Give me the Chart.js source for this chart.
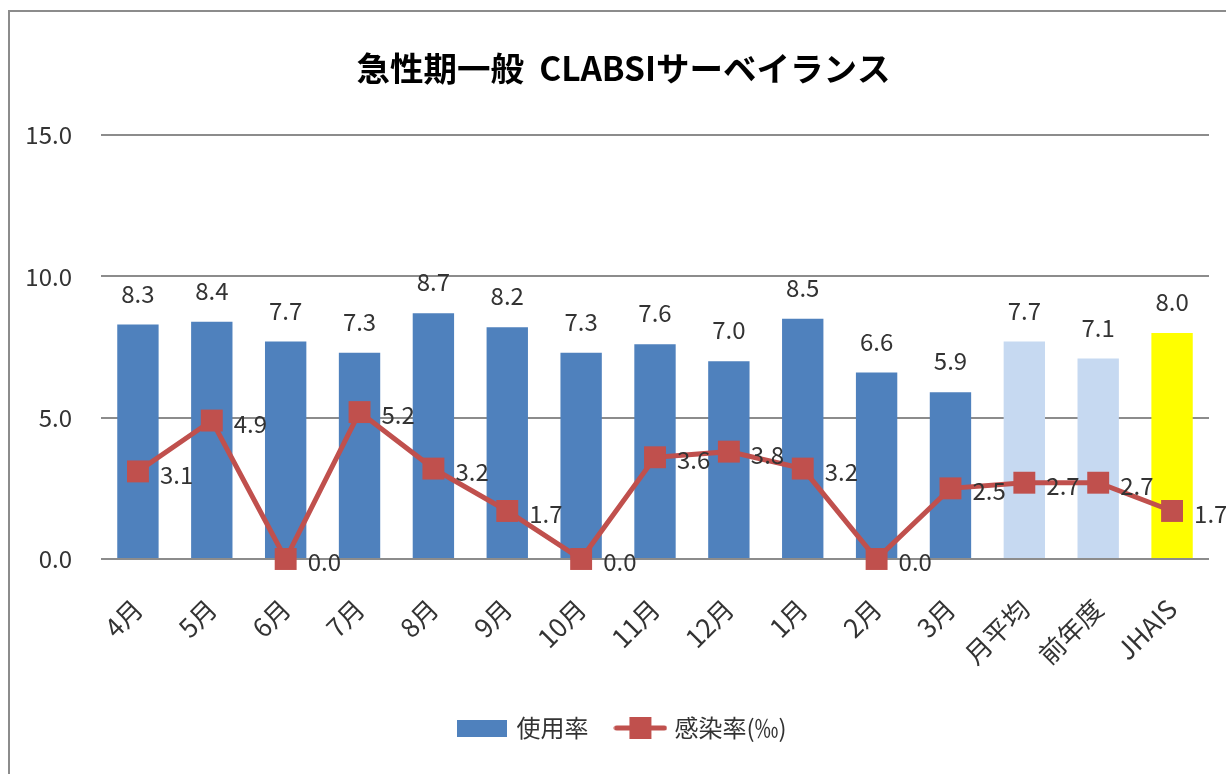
<!DOCTYPE html>
<html>
<head>
<meta charset="utf-8">
<script src="https://cdn.jsdelivr.net/npm/chart.js@4"></script>
<style>
html, body { margin: 0; padding: 0; background: #fff; overflow: hidden; }
#frame { position: absolute; left: 8px; top: 10px; width: 1400px; height: 1000px; border-left: 2px solid #8c8c8c; border-top: 2px solid #8c8c8c; }
#wrap { position: absolute; left: 0; top: 0; width: 1226px; height: 774px; }
</style>
</head>
<body>
<div id="frame"></div>
<div id="wrap"><canvas id="clabsiChart" width="1226" height="774"></canvas></div>
<script>
const categories = ['4月', '5月', '6月', '7月', '8月', '9月', '10月', '11月', '12月', '1月', '2月', '3月', '月平均', '前年度', 'JHAIS'];
const usageRate = [8.3, 8.4, 7.7, 7.3, 8.7, 8.2, 7.3, 7.6, 7.0, 8.5, 6.6, 5.9, 7.7, 7.1, 8.0];
const infectionRate = [3.1, 4.9, 0.0, 5.2, 3.2, 1.7, 0.0, 3.6, 3.8, 3.2, 0.0, 2.5, 2.7, 2.7, 1.7];
const yTickLabels = ['0.0', '5.0', '10.0', '15.0'];
const seriesNames = ['使用率', '感染率(‰)'];

const blue = '#4F81BD';
const lightBlue = '#C6D9F1';
const red = '#C0504D';
const barColors = categories.map((c, i) => i < 12 ? blue : (i < 14 ? lightBlue : '#FFFF00'));
const fontFamily = "'Noto Sans CJK JP', 'Noto Sans', sans-serif";
const textColor = '#333333';

// legend swatches
function makeSwatch(w, h, draw) {
    const c = document.createElement('canvas');
    c.width = w;
    c.height = h;
    draw(c.getContext('2d'));
    return c;
}
const barSwatch = makeSwatch(50, 17, g => { g.fillStyle = blue; g.fillRect(0, 0, 50, 17); });
const lineSwatch = makeSwatch(54, 24, g => {
    g.strokeStyle = red;
    g.lineWidth = 5;
    g.lineCap = 'round';
    g.beginPath(); g.moveTo(3, 12); g.lineTo(51, 12); g.stroke();
    g.fillStyle = red;
    g.fillRect(16, 1, 22, 22);
});

// value labels above bars / right of points
const valueLabels = {
    id: 'valueLabels',
    afterDatasetsDraw(chart) {
        const ctx = chart.ctx;
        ctx.save();
        ctx.font = '24px ' + fontFamily;
        ctx.fillStyle = textColor;
        ctx.textBaseline = 'middle';
        ctx.textAlign = 'center';
        chart.getDatasetMeta(0).data.forEach((bar, i) => {
            ctx.fillText(usageRate[i].toFixed(1), bar.x, bar.y - 31);
        });
        ctx.textAlign = 'left';
        chart.getDatasetMeta(1).data.forEach((pt, i) => {
            ctx.fillText(infectionRate[i].toFixed(1), pt.x + 22, pt.y + 3);
        });
        ctx.restore();
    }
};

// title and legend sit a bit right of the canvas centre in the original
const shiftHeader = {
    id: 'shiftHeader',
    afterLayout(chart) {
        chart.titleBlock.left += 38;
        chart.legend.left += 38;
    }
};

const ctx = document.getElementById('clabsiChart').getContext('2d');
new Chart(ctx, {
    data: {
        labels: categories,
        datasets: [{
            type: 'bar',
            label: seriesNames[0],
            data: usageRate,
            backgroundColor: barColors,
            barPercentage: 0.56,
            categoryPercentage: 1,
            order: 2
        }, {
            type: 'line',
            label: seriesNames[1],
            data: infectionRate,
            borderColor: red,
            backgroundColor: red,
            borderWidth: 5,
            pointStyle: 'rect',
            pointRadius: 15.5,
            pointBorderWidth: 0,
            tension: 0,
            clip: false,
            order: 1
        }]
    },
    options: {
        responsive: false,
        animation: false,
        layout: { padding: { top: 0, left: 0, right: 17, bottom: 24 } },
        plugins: {
            tooltip: { enabled: false },
            title: {
                display: true,
                text: '急性期一般  CLABSIサーベイランス',
                color: '#000',
                font: { family: fontFamily, size: 33.5, weight: 'bold' },
                padding: { top: 48, bottom: 47 }
            },
            legend: {
                position: 'bottom',
                labels: {
                    usePointStyle: true,
                    pointStyleWidth: 44,
                    padding: 30,
                    color: textColor,
                    font: { family: fontFamily, size: 24 },
                    generateLabels: () => [
                        { text: seriesNames[0], pointStyle: barSwatch, fillStyle: blue, strokeStyle: blue, lineWidth: 0, datasetIndex: 0, fontColor: textColor },
                        { text: seriesNames[1], pointStyle: lineSwatch, fillStyle: red, strokeStyle: red, lineWidth: 0, datasetIndex: 1, fontColor: textColor }
                    ]
                }
            }
        },
        scales: {
            x: {
                grid: { display: false },
                border: { display: false },
                ticks: {
                    color: textColor,
                    font: { family: fontFamily, size: 26 },
                    minRotation: 45,
                    maxRotation: 45,
                    padding: 26
                },
                afterFit: s => { s.height = 127; }
            },
            y: {
                min: 0,
                max: 15,
                grid: { color: '#8c8c8c', lineWidth: 2, drawTicks: false },
                border: { display: false },
                ticks: {
                    stepSize: 5,
                    color: textColor,
                    font: { family: fontFamily, size: 24 },
                    padding: 29,
                    callback: (v, i) => yTickLabels[i]
                },
                afterFit: s => { s.width = 101; }
            }
        }
    },
    plugins: [valueLabels, shiftHeader]
});
</script>
</body>
</html>
